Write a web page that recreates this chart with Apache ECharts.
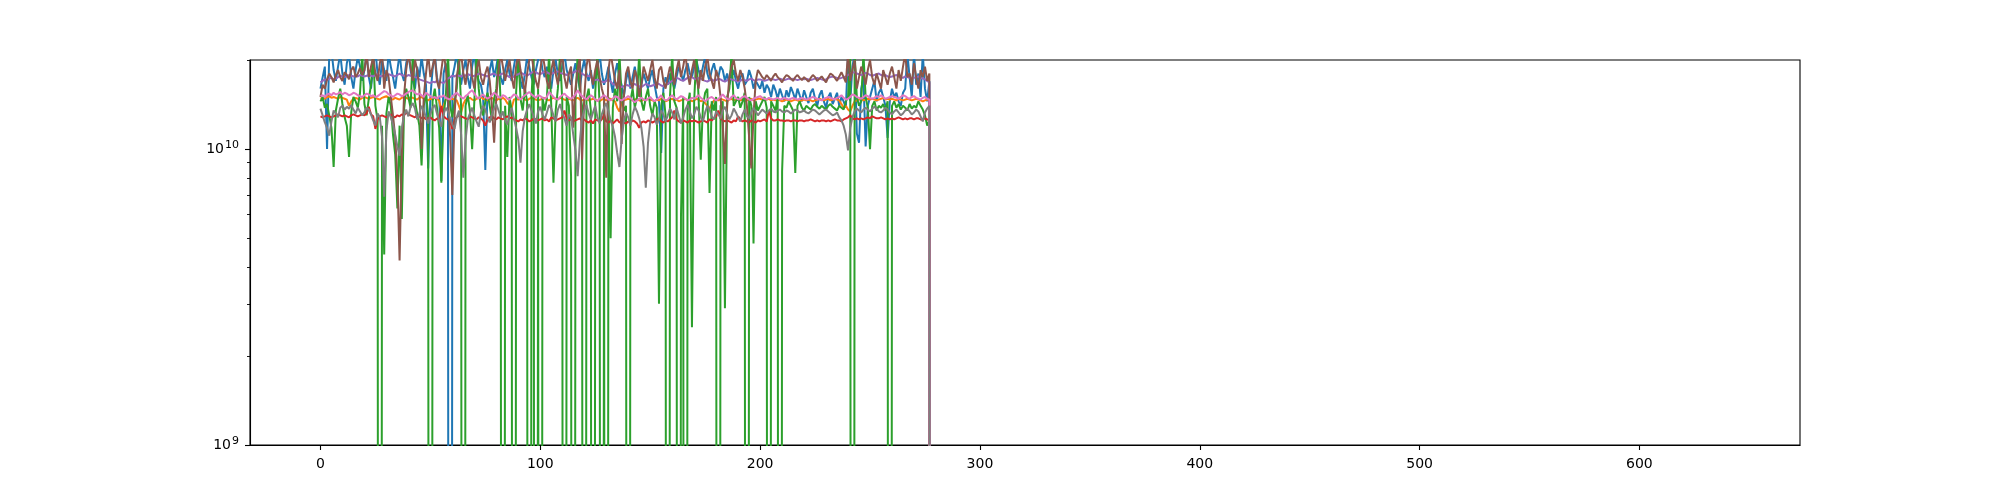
<!DOCTYPE html>
<html>
<head>
<meta charset="utf-8">
<script src="https://cdn.jsdelivr.net/npm/echarts@6/dist/echarts.min.js"></script>
<style>html,body{margin:0;padding:0;background:#fff;}#c{width:2000px;height:500px;}</style>
</head>
<body>
<div id="c"></div>
<script>
// values in units of 1e8 (0 = zero value, clipped below the log axis)
const UNIT = 1e8;
const blue = [
160,175,190,100,210,215,185,170,190,210,180,165,195,210,175,160,185,205,190,170,
185,210,175,160,190,215,180,165,200,185,170,210,190,175,160,185,210,180,170,195,
210,185,170,160,190,175,205,180,165,86,150,185,210,175,160,78,180,195,170,0,
175,190,210,180,165,185,200,175,160,190,210,180,170,165,150,85,160,185,200,175,
190,210,175,165,185,200,180,170,190,210,185,170,160,180,205,190,175,165,185,200,
210,185,175,190,170,160,185,200,180,170,190,210,185,175,165,180,195,175,160,185,
200,180,170,185,160,175,190,210,180,165,175,190,170,155,180,195,175,165,150,170,
185,160,175,190,170,155,165,180,170,160,175,185,165,150,145,97,160,175,165,180,
170,160,175,190,180,170,185,195,180,175,190,200,185,175,190,205,180,170,185,195,
180,175,190,185,170,180,165,175,185,170,160,175,180,165,170,185,175,160,170,165,
160,170,155,165,160,150,165,158,148,160,152,145,158,150,162,155,147,160,152,145,
158,150,143,155,160,148,140,152,158,145,138,150,155,142,148,155,140,150,145,138,
210,145,190,210,113,105,160,175,102,140,150,160,170,145,155,160,150,140,109,145,
160,150,155,145,140,155,160,210,175,150,210,165,180,150,210,160,145,170,0];
const orange = [
148,149,148,150,151,149,150,149,148,150,149,148,147,140,145,148,149,148,147,149,
150,149,148,149,150,149,148,147,149,150,151,149,148,147,149,148,147,149,150,149,
148,150,149,148,147,149,150,148,147,146,148,147,149,148,146,135,140,147,148,147,
148,147,146,140,133,142,147,148,149,147,146,148,149,150,148,147,146,148,149,147,
146,148,147,149,147,143,141,138,147,148,147,148,149,147,146,148,149,148,147,146,
147,148,149,147,146,148,149,148,147,149,148,147,146,148,147,146,148,149,147,146,
147,148,146,147,148,147,146,145,147,148,146,147,148,146,145,138,134,143,146,147,
148,147,146,147,148,146,145,147,146,148,147,146,145,147,146,148,147,145,146,147,
148,146,147,145,146,147,148,146,147,145,146,148,147,145,146,143,140,137,142,146,
147,146,148,147,146,145,147,148,146,147,148,146,147,145,146,147,148,146,147,148,
148,147,146,147,148,146,147,146,147,146,145,146,147,146,145,146,147,146,145,146,
147,146,147,146,145,146,147,148,147,146,147,148,146,147,148,147,146,142,138,140,
136,134,140,145,146,147,148,146,147,148,147,148,147,146,147,148,149,147,148,147,
148,147,146,148,147,146,147,148,147,146,147,148,147,146,145,146,147,146,0];
const green = [
145,150,138,142,130,118,87,135,148,160,142,128,120,94,133,150,145,138,155,210,
142,130,148,165,210,140,125,0,120,44,132,150,140,112,96,63,120,58,135,160,
150,138,210,145,132,120,88,140,155,130,0,145,160,138,118,77,130,150,210,140,
128,145,160,210,138,0,140,152,135,100,145,210,160,138,130,145,155,140,125,148,
160,210,142,0,140,94,150,135,0,155,210,148,135,160,145,0,150,210,0,160,
0,150,135,148,210,140,77,135,160,210,145,0,150,140,81,0,145,210,155,140,
0,148,160,135,0,155,210,140,0,145,0,150,50,138,160,145,210,150,135,140,
0,145,160,138,150,210,145,135,150,160,140,130,145,138,30,140,155,130,0,150,
210,145,138,0,59,150,0,140,155,25,145,210,150,92,140,155,160,71,145,135,
150,0,140,145,29,150,160,210,140,145,150,138,145,155,0,150,140,48,145,135,
140,145,150,138,0,145,140,135,150,0,84,140,138,145,140,135,83,140,145,138,
135,140,138,136,140,142,139,137,140,138,136,140,142,139,137,135,140,138,136,145,
150,210,0,210,150,140,145,210,150,138,100,140,145,135,140,138,142,135,145,0,
140,145,138,142,136,140,138,135,142,137,140,138,145,140,136,130,120,125,0];
const red = [
129,128,129,130,129,128,129,130,131,130,129,130,129,128,130,131,130,129,130,131,
130,132,139,131,129,117,126,129,130,129,128,130,131,129,128,130,129,131,130,133,
131,130,129,128,130,129,127,128,126,127,128,126,125,127,126,140,129,127,126,124,
117,126,128,130,129,128,127,126,129,128,127,126,128,127,125,120,126,128,129,127,
126,128,127,126,128,129,127,128,126,125,124,126,125,127,126,124,125,127,126,125,
126,127,125,126,124,128,127,125,126,127,128,135,127,125,126,124,125,126,127,125,
126,124,123,125,122,126,125,124,126,131,124,123,125,122,124,126,123,124,123,122,
124,123,125,124,122,118,123,124,123,125,124,123,124,126,127,124,123,125,124,126,
128,135,126,124,123,125,124,123,125,124,125,124,123,124,125,124,123,126,125,127,
129,135,127,125,124,125,124,123,125,124,129,126,124,125,124,123,125,124,123,125,
124,125,126,124,135,127,125,125,126,125,125,124,125,125,124,125,125,124,125,125,
124,125,125,126,125,124,125,124,125,125,124,125,124,125,126,125,125,124,126,127,
128,130,127,126,127,126,127,126,127,128,127,129,128,127,127,128,127,126,127,126,
127,126,127,128,127,126,127,126,127,127,126,127,127,126,126,127,126,125,0];
const purple = [
168,170,172,171,173,174,172,173,175,177,176,175,176,178,177,176,177,176,178,177,
176,177,178,177,176,178,179,177,176,178,177,179,178,177,176,178,180,178,177,176,
178,177,176,175,174,172,171,170,169,168,167,169,168,170,169,168,167,170,173,175,
177,176,178,177,176,178,177,179,178,176,177,178,180,179,178,177,176,178,179,180,
178,177,179,180,178,177,175,174,176,178,179,181,180,178,177,179,181,183,182,180,
179,181,183,182,180,179,181,182,183,181,180,179,178,180,182,181,183,184,182,180,
178,176,177,175,173,171,172,170,169,168,170,172,169,166,165,167,164,162,163,165,
164,163,165,166,164,163,162,164,166,165,163,164,165,167,166,164,163,165,166,168,
170,172,174,173,171,170,172,174,176,175,173,172,174,173,171,170,169,171,172,170,
171,173,172,170,169,171,173,172,171,170,169,170,172,171,170,172,173,171,170,172,
172,171,170,171,172,173,172,171,172,173,172,171,172,173,172,173,172,171,172,173,
172,173,172,171,172,173,174,173,172,171,172,174,175,176,175,174,173,174,175,176,
178,180,181,182,180,179,178,179,181,180,178,177,178,179,180,178,177,178,176,175,
176,177,178,176,175,174,176,175,174,173,174,175,176,174,173,172,170,168,0];
const brown = [
150,165,160,172,180,175,168,178,185,175,170,182,178,172,185,190,175,180,188,178,
185,210,175,190,205,180,170,195,210,160,185,175,150,130,110,80,42,95,150,185,
210,190,170,200,185,160,100,150,180,210,175,190,205,170,160,185,210,190,150,110,
70,130,175,195,210,180,165,190,210,175,160,185,200,175,165,180,190,170,140,105,
150,185,210,190,170,185,200,175,160,190,210,185,170,155,180,200,210,185,170,160,
185,210,190,170,160,185,200,180,165,190,210,175,160,180,190,118,160,185,205,92,
150,190,210,180,165,185,200,175,160,150,80,185,210,190,170,160,185,104,150,180,
190,170,160,185,175,150,165,190,180,170,185,200,175,160,185,190,170,160,175,190,
180,165,185,200,175,190,210,180,165,185,200,175,160,185,170,190,205,180,170,160,
185,175,150,120,89,140,175,190,200,180,170,185,175,160,140,110,86,130,170,185,
180,175,172,178,174,170,176,180,175,172,168,174,178,176,173,170,175,178,174,171,
175,172,169,174,178,175,170,173,176,172,168,175,180,178,174,170,176,182,175,168,
210,170,185,200,160,175,190,180,165,185,200,175,165,180,170,160,185,175,165,180,
190,175,160,185,170,190,210,175,180,165,195,175,160,185,175,190,170,180,0];
const pink = [
151,152,150,153,154,152,155,153,154,156,153,155,154,152,153,155,154,152,151,150,
152,154,153,151,152,150,151,153,155,157,156,153,152,150,152,154,153,151,152,154,
156,157,158,155,153,154,152,150,155,153,151,149,150,148,151,150,152,149,148,147,
151,153,155,152,150,148,151,153,156,158,154,150,148,151,153,150,148,150,152,155,
153,150,149,152,151,148,147,150,153,152,149,147,150,152,154,156,153,151,149,152,
151,149,148,150,156,153,150,148,147,150,152,154,151,149,148,150,153,158,154,151,
149,147,150,152,150,147,145,148,150,152,150,147,146,148,151,150,147,146,148,149,
151,149,146,144,146,148,149,147,146,148,150,147,145,147,149,152,148,146,147,150,
152,149,147,149,151,150,148,146,147,149,148,150,152,149,147,145,147,149,150,148,
146,148,150,153,150,148,147,150,152,149,147,148,150,151,149,147,146,148,149,150,
151,149,148,147,149,148,147,148,149,147,148,149,148,147,148,149,148,147,148,149,
148,147,148,149,150,149,148,147,146,148,149,150,149,148,147,149,150,152,149,147,
148,150,153,152,150,149,148,150,152,151,149,148,149,151,150,152,150,148,149,150,
151,150,149,148,150,152,151,149,148,150,151,149,148,147,149,150,148,147,0];
const gray = [
137,130,123,118,111,124,135,132,128,138,140,136,139,137,141,136,132,138,134,130,
133,138,136,131,125,120,132,128,110,69,115,134,128,121,112,102,95,118,130,136,
129,139,143,137,126,132,140,135,128,122,131,138,141,132,125,119,131,138,134,127,
121,117,128,135,112,80,107,126,132,138,130,124,119,133,140,136,128,123,131,137,
142,135,128,134,125,121,130,138,127,118,108,90,115,128,136,142,135,129,122,134,
139,131,126,133,141,137,130,124,136,142,133,127,120,131,128,112,99,81,106,127,
135,141,132,126,133,140,128,122,131,138,143,134,125,119,110,97,87,108,124,133,
128,120,131,139,134,127,118,102,74,105,123,132,128,121,126,135,131,124,130,137,
133,126,138,130,122,128,136,141,134,127,131,139,135,128,124,133,140,136,129,126,
134,131,127,135,139,132,126,130,137,133,128,124,131,136,129,127,133,138,134,130,
133,136,134,132,135,137,134,133,135,136,134,133,135,134,132,134,136,135,133,134,
135,133,132,134,136,135,133,131,133,135,136,134,132,130,131,133,128,125,120,112,
99,118,128,134,137,135,133,136,138,136,134,137,139,137,134,133,135,138,136,133,
131,134,136,133,130,132,135,137,134,131,133,136,134,129,124,133,137,140,0];

const seriesNames = ['blue','orange','green','red','purple','brown','pink','gray'];
const seriesValues = [blue, orange, green, red, purple, brown, pink, gray];
const colors = ['#1f77b4','#ff7f0e','#2ca02c','#d62728','#9467bd','#8c564b','#e377c2','#7f7f7f'];
const xTicks = [0, 100, 200, 300, 400, 500, 600];
const yMajorTicks = [1e9, 1e10];
const yMinorTicks = [2e9, 3e9, 4e9, 5e9, 6e9, 7e9, 8e9, 9e9, 2e10];

const bad = seriesValues.map((a, i) => a.length !== 279 ? seriesNames[i] + ':' + a.length : null).filter(Boolean);

function pow10Label(v) {
  const e = Math.round(Math.log10(v));
  return '{b|10}{s|' + e + '}';
}

const FONT = 'DejaVu Sans';
const chart = echarts.init(document.getElementById('c'), null, {renderer: 'canvas'});
chart.setOption({
  animation: false,
  backgroundColor: '#fff',
  title: bad.length ? {text: 'LEN ' + bad.join(' '), left: 300, top: 5} : undefined,
  grid: {left: 250, right: 200, top: 60, bottom: 55, show: true, borderColor: '#000', borderWidth: 1.1, backgroundColor: 'transparent'},
  xAxis: {
    type: 'value', min: -32.05, max: 673.05,
    axisLine: {show: true, onZero: false, lineStyle: {color: '#000', width: 1.1}},
    axisTick: {show: true, customValues: xTicks, length: 5, lineStyle: {color: '#000', width: 1.1}},
    axisLabel: {show: true, customValues: xTicks, color: '#000', fontSize: 14, fontFamily: FONT, margin: 12},
    splitLine: {show: false}
  },
  yAxis: [{
    type: 'log', logBase: 10, min: 1e9, max: 2e10,
    axisLine: {show: true, onZero: false, lineStyle: {color: '#000', width: 1.1}},
    axisTick: {show: true, customValues: yMajorTicks, length: 5, lineStyle: {color: '#000', width: 1.1}},
    axisLabel: {
      show: true, customValues: yMajorTicks, color: '#000', fontFamily: FONT, margin: 11, formatter: pow10Label,
      rich: {
        b: {fontSize: 14, fontFamily: FONT, color: '#000'},
        s: {fontSize: 11, fontFamily: FONT, color: '#000', padding: [0, 0, 7, 1]}
      }
    },
    splitLine: {show: false}
  }, {
    type: 'log', logBase: 10, min: 1e9, max: 2e10, position: 'left',
    axisLine: {show: false, onZero: false},
    axisTick: {show: true, customValues: yMinorTicks, length: 3, lineStyle: {color: '#000', width: 0.9}},
    axisLabel: {show: false},
    splitLine: {show: false}
  }],
  series: seriesValues.map((vals, k) => ({
    name: seriesNames[k],
    type: 'line',
    yAxisIndex: 0,
    showSymbol: false,
    symbol: 'none',
    clip: true,
    silent: true,
    lineStyle: {color: colors[k], width: 2},
    itemStyle: {color: colors[k]},
    data: vals.map((v, i) => [i, v === 0 ? 1 : v * UNIT])
  }))
});
</script>
</body>
</html>
